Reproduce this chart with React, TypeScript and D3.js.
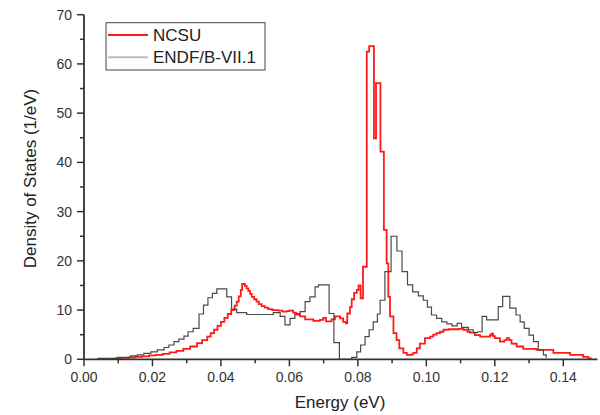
import React from "react";
import * as d3 from "d3";

// NCSU (red) – step histogram: bin start energy (eV) and density (1/eV)
const ncsuEnergy = [
  0.009, 0.011, 0.013, 0.015, 0.017, 0.019, 0.021, 0.023, 0.025, 0.027, 0.029, 0.031, 0.033, 0.0345, 0.036,
  0.037, 0.038, 0.039, 0.04, 0.041, 0.042, 0.043, 0.044, 0.0446, 0.0452, 0.0458, 0.0462, 0.047, 0.0475, 0.048,
  0.0485, 0.049, 0.0497, 0.0504, 0.0511, 0.0519, 0.0528, 0.0538, 0.055, 0.0568, 0.058, 0.0592, 0.06, 0.0611,
  0.062, 0.0631, 0.0646, 0.067, 0.0689, 0.0699, 0.0707, 0.0723, 0.0733, 0.0748, 0.0757, 0.0765, 0.0769, 0.0777,
  0.0782, 0.0789, 0.0797, 0.0802, 0.0808, 0.0815, 0.0826, 0.0833, 0.0847, 0.0853, 0.0866, 0.0876, 0.0884,
  0.0889, 0.0894, 0.0904, 0.0913, 0.0921, 0.0933, 0.0943, 0.0957, 0.0962, 0.0972, 0.0981, 0.0996, 0.1011,
  0.102, 0.103, 0.104, 0.105, 0.1065, 0.1079, 0.1095, 0.1108, 0.112, 0.1128, 0.1142, 0.1157, 0.117, 0.1186,
  0.119, 0.1195, 0.12, 0.1215, 0.1228, 0.1235, 0.1242, 0.1249, 0.1264, 0.1283, 0.1322, 0.1371, 0.142, 0.1458,
  0.1473, 0.148,
];
const ncsuDensity = [
  0.2, 0.3, 0.4, 0.5, 0.6, 0.8, 0.9, 1.1, 1.4, 1.7, 2.1, 2.6, 3.3, 3.9, 4.6,
  5.3, 6.0, 6.8, 7.6, 8.4, 9.2, 10.0, 10.9, 11.7, 12.8, 14.1, 15.3, 14.9, 14.4, 13.9,
  13.3, 12.7, 12.2, 11.7, 11.2, 10.8, 10.5, 10.2, 10.0, 9.9, 9.7, 9.8, 9.9, 9.5,
  9.1, 8.7, 8.1, 7.8, 8.0, 8.4, 7.7, 8.1, 8.7, 8.3, 7.6, 7.3, 9.3, 10.6,
  12.2, 13.5, 14.1, 15.0, 12.4, 18.8, 62.5, 63.6, 44.9, 56.1, 42.2, 26.3, 19.5,
  12.7, 8.7, 5.3, 3.9, 2.2, 1.3, 0.9, 1.0, 1.3, 2.2, 3.2, 4.3, 4.6,
  5.0, 5.3, 5.6, 6.0, 6.1, 6.1, 6.2, 6.0, 5.6, 5.4, 4.9, 4.6, 4.6, 4.9,
  5.2, 4.7, 4.3, 3.6, 3.9, 4.3, 3.9, 3.2, 2.6, 2.1, 1.9, 1.3, 0.9, 0.5,
  0.2, 0.05,
];

// ENDF/B-VII.1 (gray) – step histogram
const endfEnergy = [
  0.0039, 0.0097, 0.0136, 0.0156, 0.0175, 0.0195, 0.0214, 0.0234, 0.0248, 0.0263, 0.0277, 0.0292, 0.0304,
  0.0319, 0.0336, 0.0349, 0.0362, 0.0375, 0.0388, 0.0417, 0.0431, 0.0446, 0.0475, 0.0553, 0.0573, 0.0587,
  0.0602, 0.0616, 0.0631, 0.0646, 0.066, 0.0675, 0.0685, 0.0716, 0.073, 0.0746, 0.0782, 0.0797, 0.0808,
  0.0821, 0.0833, 0.0845, 0.0857, 0.0865, 0.0879, 0.0897, 0.0914, 0.0929, 0.0945, 0.096, 0.0977, 0.0991,
  0.1003, 0.1015, 0.103, 0.1045, 0.106, 0.1075, 0.109, 0.1103, 0.1123, 0.1137, 0.115, 0.1163, 0.1176,
  0.121, 0.1223, 0.1244, 0.1262, 0.1274, 0.1286, 0.13, 0.1313, 0.1327, 0.1342, 0.135,
];
const endfDensity = [
  0.2, 0.4, 0.7, 0.9, 1.2, 1.5, 1.9, 2.4, 2.9, 3.6, 4.1, 4.7, 5.6,
  6.3, 9.2, 11.0, 12.5, 13.4, 14.3, 12.7, 10.2, 9.5, 9.1, 9.5, 8.7, 7.0,
  8.3, 9.3, 9.7, 11.7, 12.7, 14.7, 15.1, 9.3, 3.4, 0, 0.4, 1.5, 2.9,
  4.6, 6.0, 7.6, 9.2, 12.0, 17.8, 25.0, 22.0, 17.8, 15.1, 13.7, 12.9, 12.0,
  10.6, 9.0, 8.3, 7.6, 7.2, 6.8, 7.3, 6.5, 6.0, 5.4, 5.6, 8.7, 8.0,
  10.7, 12.8, 10.4, 9.0, 7.6, 6.3, 4.9, 3.6, 1.9, 0.9, 0.3,
];

const xTicks = [0, 0.02, 0.04, 0.06, 0.08, 0.1, 0.12, 0.14];
const yTicks = [0, 10, 20, 30, 40, 50, 60, 70];
const seriesNames = ["NCSU", "ENDF/B-VII.1"];

const W = 600;
const H = 415;
const FONT = "Liberation Sans, Arial, sans-serif";
const AXIS = "#333333";

export default function App() {
  const x = d3.scaleLinear().domain([0, 0.15]).range([84, 597.5]);
  const y = d3.scaleLinear().domain([0, 70]).range([359.3, 14.7]);
  const line = d3
    .line<[number, number]>()
    .x((d) => x(d[0]))
    .y((d) => y(d[1]))
    .curve(d3.curveStepAfter);

  const ncsu: [number, number][] = ncsuEnergy.map((e, i) => [e, ncsuDensity[i]]);
  const endf: [number, number][] = endfEnergy.map((e, i) => [e, endfDensity[i]]);

  const xMinor = d3.range(0.01, 0.15, 0.02);
  const yMinor = d3.range(5, 70, 10);
  const x0 = x(0);
  const y0 = y(0);

  return (
    <svg
      width={W}
      height={H}
      style={{ position: "absolute", left: 0, top: 0, background: "#fff" }}
      fontFamily={FONT}
    >
      <rect x={0} y={0} width={W} height={H} fill="#fff" />
      {/* series */}
      <path d={line(ncsu) || ""} fill="none" stroke="#ff1a1a" strokeWidth={1.8} />
      <path d={line(endf) || ""} fill="none" stroke="#4a4a4a" strokeWidth={1.2} />

      {/* axes */}
      <line x1={x0} x2={x0} y1={y(70)} y2={y0} stroke={AXIS} strokeWidth={1.8} />
      <line x1={x0} x2={x(0.15)} y1={y0} y2={y0} stroke={AXIS} strokeWidth={1.8} />
      {xTicks.map((t) => (
        <g key={"xt" + t}>
          <line x1={x(t)} x2={x(t)} y1={y0} y2={y0 + 7} stroke={AXIS} strokeWidth={1.5} />
          <text x={x(t)} y={381.5} textAnchor="middle" fontSize={14} fill="#333">
            {t.toFixed(2)}
          </text>
        </g>
      ))}
      {xMinor.map((t) => (
        <line key={"xm" + t} x1={x(t)} x2={x(t)} y1={y0} y2={y0 + 4} stroke={AXIS} strokeWidth={1.5} />
      ))}
      {yTicks.map((t) => (
        <g key={"yt" + t}>
          <line x1={x0 - 7} x2={x0} y1={y(t)} y2={y(t)} stroke={AXIS} strokeWidth={1.5} />
          <text x={72} y={y(t) + 5} textAnchor="end" fontSize={14} fill="#333">
            {t}
          </text>
        </g>
      ))}
      {yMinor.map((t) => (
        <line key={"ym" + t} x1={x0 - 4} x2={x0} y1={y(t)} y2={y(t)} stroke={AXIS} strokeWidth={1.5} />
      ))}

      {/* axis titles */}
      <text x={340} y={408} textAnchor="middle" fontSize={17} fill="#222">
        Energy (eV)
      </text>
      <text
        transform={`translate(36,178.5) rotate(-90)`}
        textAnchor="middle"
        fontSize={17}
        fill="#222"
      >
        Density of States (1/eV)
      </text>

      {/* legend */}
      <rect x={106} y={22.7} width={159} height={47.3} fill="#fff" stroke="#444" strokeWidth={1} />
      <line x1={108} x2={148} y1={35} y2={35} stroke="#ff1a1a" strokeWidth={2} />
      <text x={153} y={41} fontSize={17} fill="#222">
        {seriesNames[0]}
      </text>
      <line x1={108} x2={148} y1={57.3} y2={57.3} stroke="#bdbdbd" strokeWidth={2} />
      <text x={153} y={63} fontSize={17} fill="#222">
        {seriesNames[1]}
      </text>
    </svg>
  );
}
